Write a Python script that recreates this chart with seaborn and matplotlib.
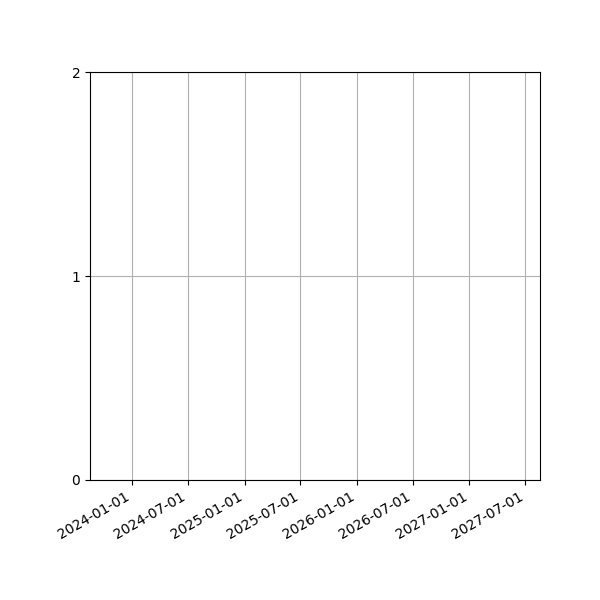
import pandas as pd
import matplotlib
matplotlib.use("Agg")
import matplotlib.pyplot as plt
import matplotlib.dates as mdates
import seaborn as sns

# empty series, only the date window and y range are shown
dates = pd.to_datetime(pd.Series([], dtype="datetime64[ns]"))
values = pd.Series([], dtype=float)
x_range = pd.to_datetime(["2023-08-18", "2027-08-18"])
y_ticks = [0, 1, 2]

df = pd.DataFrame({"date": dates, "value": values})

fig, ax = plt.subplots(figsize=(6, 6), dpi=100)
sns.lineplot(data=df, x="date", y="value", ax=ax)
ax.set_xlim(x_range[0], x_range[1])
ax.set_ylim(y_ticks[0], y_ticks[-1])
ax.set_yticks(y_ticks)
ax.xaxis.set_major_locator(mdates.MonthLocator(bymonth=[1, 7]))
ax.xaxis.set_major_formatter(mdates.DateFormatter("%Y-%m-%d"))
ax.set_xlabel("")
ax.set_ylabel("")
ax.grid(True)
fig.autofmt_xdate()
fig.subplots_adjust(left=0.15, right=0.9, top=0.88, bottom=0.2)
plt.savefig("out.png")
